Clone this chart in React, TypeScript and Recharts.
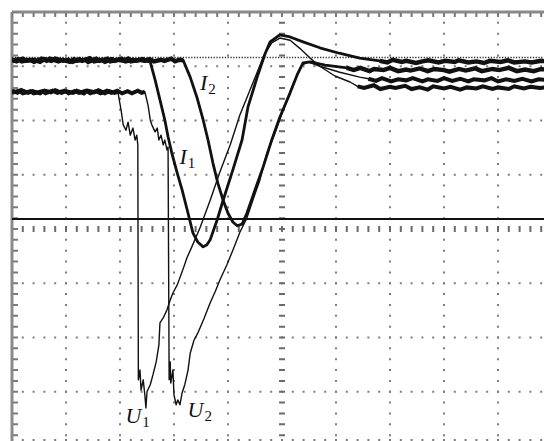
import React from "react";
import { LineChart, Line, XAxis, YAxis, ReferenceLine, ReferenceDot } from "recharts";

// time in divisions (0..10), amplitude in divisions (-4..4)
const I1_POINTS: [number, number][] = [
  [0, 3.12], [0.08, 3.09], [0.2, 3.14], [0.27, 3.1], [0.4, 3.12], [0.52, 3.08], [0.6, 3.13], [0.73, 3.1],
  [0.8, 3.14], [0.95, 3.1], [1.04, 3.12], [1.12, 3.08], [1.25, 3.13], [1.3, 3.1], [1.44, 3.15], [1.52, 3.09],
  [1.66, 3.12], [1.72, 3.08], [1.85, 3.13], [1.9, 3.1], [2.03, 3.14], [2.1, 3.09], [2.24, 3.12], [2.3, 3.1],
  [2.42, 3.13], [2.5, 3.09],
  [2.56, 3.08], [2.65, 2.75], [2.74, 2.38], [2.83, 2.01], [2.89, 1.7], [2.96, 1.4], [3.06, 1.03],
  [3.15, 0.72], [3.26, 0.29], [3.35, -0.07], [3.44, -0.24], [3.54, -0.33], [3.61, -0.29], [3.67, -0.2],
  [3.8, 0.17], [3.91, 0.53], [4.09, 1.09], [4.26, 1.64], [4.37, 2.25], [4.54, 2.8], [4.69, 3.24],
  [4.78, 3.45], [4.96, 3.58], [5.15, 3.54], [5.39, 3.45], [5.7, 3.34], [6.06, 3.24], [6.44, 3.15],
  [6.81, 3.1], [6.95, 3.07], [7.05, 3.12], [7.22, 3.08], [7.3, 3.1], [7.48, 3.06], [7.6, 3.09], [7.71, 3.11],
  [7.9, 3.07], [8.02, 3.1], [8.2, 3.08], [8.27, 3.11], [8.45, 3.07], [8.6, 3.09], [8.74, 3.06], [8.85, 3.1],
  [9.05, 3.08], [9.18, 3.11], [9.3, 3.07], [9.5, 3.09], [9.62, 3.07], [9.8, 3.1], [10, 3.08],
];

const I2_POINTS: [number, number][] = [
  [0, 3.1], [0.12, 3.13], [0.18, 3.09], [0.33, 3.12], [0.41, 3.08], [0.55, 3.14], [0.64, 3.1], [0.7, 3.14],
  [0.86, 3.09], [0.93, 3.12], [1.07, 3.08], [1.15, 3.13], [1.2, 3.1], [1.36, 3.12], [1.41, 3.08], [1.56, 3.14],
  [1.62, 3.1], [1.77, 3.14], [1.82, 3.09], [1.96, 3.12], [2.06, 3.1], [2.15, 3.14], [2.2, 3.09], [2.36, 3.12],
  [2.45, 3.1], [2.55, 3.13], [2.63, 3.09], [2.76, 3.12], [2.82, 3.1], [2.95, 3.14], [3.02, 3.09], [3.1, 3.12], [3.17, 3.11],
  [3.3, 2.8], [3.43, 2.41], [3.54, 2.01], [3.63, 1.64], [3.72, 1.22], [3.81, 0.85], [3.91, 0.53],
  [4.0, 0.29], [4.09, 0.13], [4.17, 0.06], [4.26, 0.09], [4.35, 0.29], [4.5, 0.72], [4.65, 1.14],
  [4.81, 1.64], [4.96, 2.06], [5.15, 2.51], [5.28, 2.84], [5.39, 3.06], [5.52, 3.08], [5.8, 3.02],
  [6.2, 2.97], [6.33, 2.93], [6.45, 2.97], [6.62, 2.91], [6.7, 2.95], [6.88, 2.93], [7.0, 2.97], [7.15, 2.91],
  [7.3, 2.94], [7.38, 2.92], [7.55, 2.96], [7.7, 2.91], [7.82, 2.95], [8.0, 2.93], [8.1, 2.9], [8.28, 2.95],
  [8.4, 2.92], [8.58, 2.96], [8.7, 2.91], [8.9, 2.95], [9.02, 2.93], [9.2, 2.97], [9.35, 2.91], [9.5, 2.94],
  [9.66, 2.91], [9.8, 2.95], [10, 2.92],
];

const U1_POINTS: [number, number][] = [
  [0, 2.55], [0.1, 2.51], [0.17, 2.56], [0.3, 2.51], [0.38, 2.54], [0.52, 2.5], [0.6, 2.55], [0.72, 2.52],
  [0.8, 2.56], [0.92, 2.51], [1.0, 2.54], [1.13, 2.51], [1.2, 2.55], [1.33, 2.5], [1.4, 2.55], [1.52, 2.52],
  [1.6, 2.56], [1.72, 2.5], [1.8, 2.54], [1.9, 2.51], [1.96, 2.53],
  [2.02, 2.19], [2.06, 1.92], [2.11, 1.82], [2.15, 1.97], [2.19, 1.73], [2.24, 1.86], [2.28, 1.64],
  [2.31, 1.73], [2.33, 1.55], [2.34, -2.78], [2.37, -2.6], [2.39, -2.97], [2.43, -2.78], [2.46, -3.06],
  [2.48, -3.3], [2.5, -3.0], [2.56, -2.87], [2.61, -2.69], [2.67, -2.45], [2.72, -2.14], [2.74, -1.73],
  [2.8, -1.64], [2.87, -1.49], [2.93, -1.31], [2.98, -1.18], [3.06, -1.03], [3.15, -0.79], [3.24, -0.53],
  [3.33, -0.33], [3.48, 0.02], [3.67, 0.53], [3.85, 1.05], [4.04, 1.55], [4.22, 2.1], [4.37, 2.47],
  [4.52, 2.84], [4.67, 3.21], [4.81, 3.43], [4.96, 3.52], [5.15, 3.48], [5.33, 3.33], [5.52, 3.15],
  [5.7, 3.0], [5.98, 2.82], [6.26, 2.71],
  [6.4, 2.63], [6.52, 2.6], [6.7, 2.65], [6.82, 2.58], [7.0, 2.62], [7.1, 2.6], [7.28, 2.64], [7.4, 2.58],
  [7.55, 2.61], [7.7, 2.57], [7.8, 2.63], [8.0, 2.59], [8.12, 2.62], [8.3, 2.57], [8.42, 2.61], [8.6, 2.59],
  [8.72, 2.63], [8.9, 2.58], [9.0, 2.61], [9.2, 2.58], [9.3, 2.63], [9.48, 2.59], [9.6, 2.62], [9.78, 2.6], [10, 2.62],
];

const U2_POINTS: [number, number][] = [
  [0, 2.51], [0.13, 2.55], [0.2, 2.5], [0.34, 2.54], [0.4, 2.5], [0.56, 2.54], [0.62, 2.5], [0.75, 2.55],
  [0.84, 2.51], [0.97, 2.55], [1.05, 2.5], [1.16, 2.54], [1.24, 2.51], [1.37, 2.55], [1.45, 2.5], [1.56, 2.54],
  [1.64, 2.5], [1.76, 2.55], [1.84, 2.51], [1.95, 2.55], [2.04, 2.5], [2.14, 2.54], [2.22, 2.5], [2.33, 2.55],
  [2.4, 2.51], [2.46, 2.53],
  [2.52, 2.28], [2.56, 2.01], [2.59, 1.92], [2.65, 1.79], [2.69, 1.86], [2.72, 1.64], [2.76, 1.73],
  [2.8, 1.55], [2.83, 1.64], [2.87, 1.46], [2.89, 1.51], [2.91, -2.78], [2.93, -2.45], [2.94, -2.84],
  [2.98, -2.6], [3.0, -3.06], [3.04, -3.24], [3.07, -3.15], [3.11, -3.24], [3.15, -3.02], [3.2, -2.87],
  [3.26, -2.6], [3.3, -2.29], [3.37, -2.05], [3.44, -1.92], [3.56, -1.64], [3.67, -1.36], [3.76, -1.16],
  [3.85, -0.94], [3.98, -0.66], [4.09, -0.39], [4.22, -0.06], [4.35, 0.2], [4.46, 0.53], [4.59, 0.9],
  [4.72, 1.4], [4.87, 1.77], [5.02, 2.19], [5.15, 2.53], [5.28, 2.84], [5.37, 3.02], [5.48, 3.08],
  [5.7, 3.0], [6.07, 2.89], [6.44, 2.8],
  [6.6, 2.77], [6.74, 2.73], [6.85, 2.78], [7.02, 2.72], [7.15, 2.76], [7.3, 2.74], [7.42, 2.78], [7.6, 2.72],
  [7.7, 2.76], [7.88, 2.73], [8.0, 2.78], [8.15, 2.73], [8.3, 2.77], [8.45, 2.72], [8.55, 2.76], [8.75, 2.74],
  [8.88, 2.78], [9.0, 2.72], [9.15, 2.76], [9.3, 2.73], [9.45, 2.77], [9.62, 2.72], [9.75, 2.76], [10, 2.74],
];

const GRID_X = [1, 2, 3, 4, 6, 7, 8, 9];
const GRID_Y = [3, 2, 1, -1, -2, -3, -3.89];
const ZERO_MARK_Y = 0.184;
const REF_LEVEL_Y = 3.16;

const LABELS = [
  { x: 3.48, y: 2.56, main: "I", sub: "2" },
  { x: 3.1, y: 1.2, main: "I", sub: "1" },
  { x: 2.1, y: -3.58, main: "U", sub: "1" },
  { x: 3.25, y: -3.47, main: "U", sub: "2" },
];

const SERIES = [
  { name: "I1", pts: I1_POINTS, from: 2.5, to: 6.8, w: 2.8, nw: 4.4 },
  { name: "I2", pts: I2_POINTS, from: 3.17, to: 6.2, w: 2.8, nw: 4.4 },
  { name: "U1", pts: U1_POINTS, from: 1.96, to: 6.3, w: 1.4, nw: 4 },
  { name: "U2", pts: U2_POINTS, from: 2.46, to: 6.6, w: 1.4, nw: 4 },
];

const GRID_COLOR = "#7d7d7d";

export default function App() {
  return (
    <div style={{ position: "fixed", left: 0, top: 0, width: 544, height: 441, overflow: "hidden", background: "#fff" }}>
      <LineChart width={556} height={450} margin={{ top: 12, right: 4, bottom: 4, left: 12 }}>
        <XAxis type="number" dataKey="t" domain={[0, 10]} hide allowDataOverflow />
        <YAxis type="number" domain={[-4, 4]} hide allowDataOverflow />
        {GRID_X.map((x) => (
          <ReferenceLine key={"gx" + x} x={x} stroke={GRID_COLOR} strokeWidth={2} strokeDasharray="2 8.85" strokeDashoffset={1} />
        ))}
        {GRID_Y.map((y) => (
          <ReferenceLine key={"gy" + y} y={y} stroke={GRID_COLOR} strokeWidth={2} strokeDasharray="2 8.8" strokeDashoffset={1} />
        ))}
        <ReferenceLine x={5} stroke="#6a6a6a" strokeWidth={6} strokeDasharray="2 8.85" strokeDashoffset={1} />
        <ReferenceLine y={0} stroke="#6a6a6a" strokeWidth={6} strokeDasharray="2 8.8" strokeDashoffset={1} />
        <ReferenceLine x={0} stroke="#8a8a8a" strokeWidth={3} />
        <ReferenceLine y={4} stroke="#8a8a8a" strokeWidth={3} />
        <ReferenceLine x={0.065} stroke="#7a7a7a" strokeWidth={5} strokeDasharray="2 8.85" strokeDashoffset={1} />
        <ReferenceLine y={3.945} stroke="#7a7a7a" strokeWidth={4} strokeDasharray="2 8.8" strokeDashoffset={1} />
        <ReferenceLine y={REF_LEVEL_Y} stroke="#333" strokeWidth={1.5} strokeDasharray="1.3 1.5" />
        <ReferenceLine y={ZERO_MARK_Y} stroke="#111" strokeWidth={1.8} />
        {SERIES.map((s) => {
          const rows = s.pts.map(([t, v]) => ({ t, v, n: t <= s.from || t >= s.to ? v : null }));
          return (
            <React.Fragment key={s.name}>
              <Line data={rows} dataKey="v" name={s.name} type="linear" stroke="#111" strokeWidth={s.w} dot={false} isAnimationActive={false} strokeLinejoin="round" />
              <Line data={rows} dataKey="n" name={s.name + " noise"} type="linear" stroke="#111" strokeWidth={s.nw} dot={false} connectNulls={false} isAnimationActive={false} />
            </React.Fragment>
          );
        })}
        {LABELS.map((l) => (
          <ReferenceDot
            key={l.main + l.sub}
            x={l.x}
            y={l.y}
            r={1}
            shape={(p: any) => (
              <text x={p.cx} y={p.cy} fontFamily="'Liberation Serif', serif" fontSize={22} fill="#111">
                <tspan fontStyle="italic">{l.main}</tspan>
                <tspan fontSize={15} dx={1} dy={4}>{l.sub}</tspan>
              </text>
            )}
          />
        ))}
      </LineChart>
    </div>
  );
}
